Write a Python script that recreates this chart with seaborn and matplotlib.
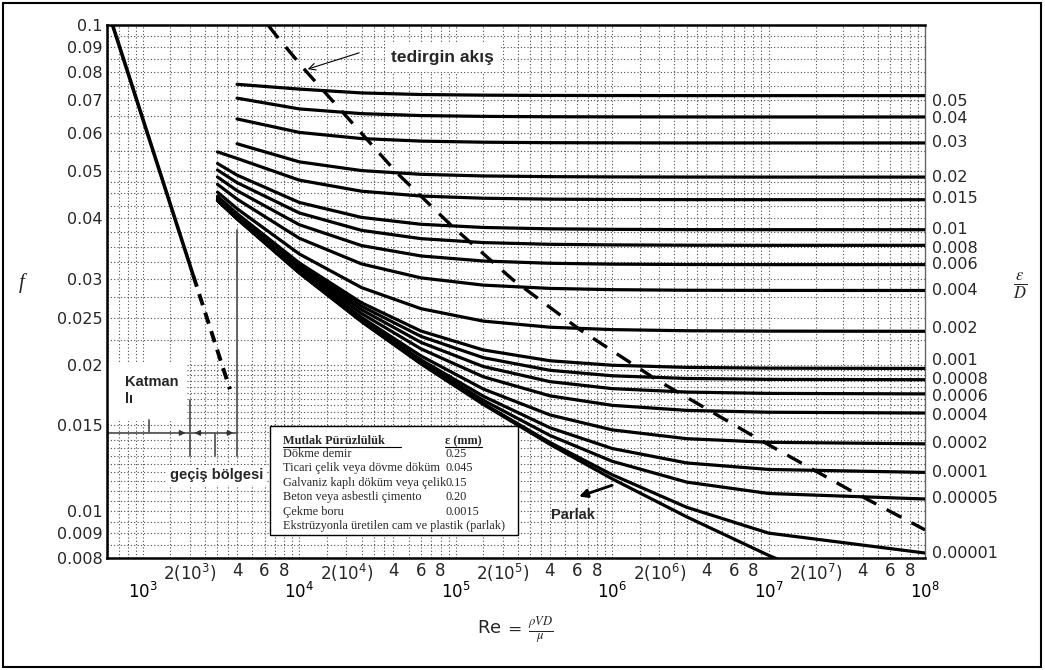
import numpy as np
import pandas as pd
import matplotlib
matplotlib.use("Agg")
import matplotlib.pyplot as plt
import seaborn as sns
from matplotlib.patches import Rectangle
from matplotlib.lines import Line2D
from matplotlib.ticker import NullLocator

# === Data ===
# Reynolds numbers where the friction factor was read
re_grid = [3e3, 4e3, 1e4, 2.5e4, 6e4, 1.5e5, 4e5, 1e6, 3e6, 1e7, 1e8]

# friction factor per relative roughness (suffix = eps/D x 1e5), nan = curve not drawn there
f_r5000 = [np.nan, 0.0755, 0.0738, 0.07247, 0.07193, 0.07171, 0.07161, 0.07158, 0.07156, 0.07155, 0.07155]
f_r4000 = [np.nan, 0.0707, 0.06719, 0.0657, 0.0651, 0.06485, 0.06474, 0.0647, 0.06468, 0.06467, 0.06467]
f_r3000 = [np.nan, 0.06407, 0.06011, 0.05838, 0.05768, 0.05738, 0.05725, 0.05721, 0.05718, 0.05718, 0.05718]
f_r2000 = [np.nan, 0.05696, 0.05228, 0.05016, 0.04928, 0.0489, 0.04874, 0.04868, 0.04865, 0.04864, 0.04864]
f_r1500 = [0.0548, 0.05314, 0.04794, 0.04549, 0.04446, 0.044, 0.04381, 0.04374, 0.04371, 0.0437, 0.04369]
f_r1000 = [0.05187, 0.0491, 0.04313, 0.04018, 0.03889, 0.03831, 0.03806, 0.03797, 0.03792, 0.03791, 0.0379]
f_r800 = [0.05029, 0.04738, 0.04104, 0.03779, 0.03633, 0.03566, 0.03537, 0.03527, 0.03522, 0.0352, 0.0352]
f_r600 = [0.04866, 0.04561, 0.03881, 0.03516, 0.03347, 0.03268, 0.03233, 0.0322, 0.03214, 0.03212, 0.03212]
f_r400 = [0.047, 0.04382, 0.0364, 0.03223, 0.03017, 0.02915, 0.0287, 0.02853, 0.02845, 0.02843, 0.02842]
f_r200 = [0.04529, 0.04188, 0.03379, 0.02881, 0.02607, 0.02458, 0.02388, 0.02361, 0.02348, 0.02344, 0.02342]
f_r100 = [0.04441, 0.04091, 0.03238, 0.02681, 0.02345, 0.02144, 0.02037, 0.01994, 0.01974, 0.01967, 0.01964]
f_r80 = [0.04424, 0.04071, 0.03209, 0.02638, 0.02286, 0.02067, 0.01947, 0.01897, 0.01873, 0.01865, 0.01862]
f_r60 = [0.04408, 0.04052, 0.0318, 0.02594, 0.02222, 0.01982, 0.01845, 0.01785, 0.01756, 0.01745, 0.01741]
f_r40 = [0.04391, 0.04031, 0.03149, 0.02548, 0.02155, 0.01888, 0.01725, 0.01649, 0.0161, 0.01596, 0.0159]
f_r20 = [0.04372, 0.04012, 0.03119, 0.02501, 0.02084, 0.01782, 0.01576, 0.01468, 0.01408, 0.01384, 0.01374]
f_r10 = [0.04362, 0.04002, 0.03105, 0.02476, 0.02046, 0.01722, 0.01483, 0.01344, 0.01255, 0.01217, 0.012]
f_r5 = [0.04357, 0.03996, 0.03097, 0.02466, 0.02027, 0.01689, 0.0143, 0.01265, 0.01146, 0.01086, 0.01058]
f_r1 = [0.04353, 0.03992, 0.0309, 0.02455, 0.02011, 0.01663, 0.01383, 0.01187, 0.01017, 0.009, 0.00819]
f_smooth = [0.04353, 0.03991, 0.03088, 0.02452, 0.02007, 0.01656, 0.01371, 0.01164, 0.00972, 0.0081, 0.00594]

eps_labels = ["0.05", "0.04", "0.03", "0.02", "0.015", "0.01", "0.008", "0.006", "0.004",
              "0.002", "0.001", "0.0008", "0.0006", "0.0004", "0.0002", "0.0001", "0.00005", "0.00001"]
eps_curves = [f_r5000, f_r4000, f_r3000, f_r2000, f_r1500, f_r1000, f_r800, f_r600, f_r400,
              f_r200, f_r100, f_r80, f_r60, f_r40, f_r20, f_r10, f_r5, f_r1]

# laminar line and its dashed continuation
lam_re = [640, 2100]
lam_f = [0.1, 0.0305]
lam_dash_re = [2100, 3600]
lam_dash_f = [0.0305, 0.0178]

# boundary of complete turbulence (dashed)
turb_re = [6300, 7520, 10870, 42100, 95900, 232000, 622000, 1.93e6, 8.8e6, 3.3e7, 1e8]
turb_f = [0.1, 0.0931, 0.0808, 0.0496, 0.0384, 0.0299, 0.0236, 0.0186, 0.014, 0.01104, 0.00914]

# axis ticks
y_ticks = [0.008, 0.009, 0.01, 0.015, 0.02, 0.025, 0.03, 0.04, 0.05, 0.06, 0.07, 0.08, 0.09, 0.1]
y_tick_labels = ["0.008", "0.009", "0.01", "0.015", "0.02", "0.025", "0.03", "0.04",
                 "0.05", "0.06", "0.07", "0.08", "0.09", "0.1"]
x_decades = [3, 4, 5, 6, 7, 8]
x_subs = [2, 4, 6, 8]

# roughness table
material_names = ["Dökme demir", "Ticari çelik veya dövme döküm", "Galvaniz kaplı döküm veya çelik",
                  "Beton veya asbestli çimento", "Çekme boru",
                  "Ekstrüzyonla üretilen cam ve plastik (parlak)"]
material_eps = ["0.25", "0.045", "0.15", "0.20", "0.0015", ""]

# === Build long table for seaborn ===
rows = []
for label, fs in zip(eps_labels + ["parlak"], eps_curves + [f_smooth]):
    for re, f in zip(re_grid, fs):
        rows.append((label, re, f))
df = pd.DataFrame(rows, columns=["eps", "Re", "f"]).dropna()

# === Figure ===
sns.set_theme(style="white")
plt.rcParams["font.family"] = ["DejaVu Sans"]
plt.rcParams["mathtext.fontset"] = "stix"

fig = plt.figure(figsize=(10.45, 6.70), dpi=100)
ax = fig.add_axes([0.1024, 0.1672, 0.7828, 0.7955])

sns.lineplot(data=df, x="Re", y="f", units="eps", estimator=None, sort=True,
             color="black", linewidth=2.3, ax=ax, zorder=3)

ax.plot(lam_re, lam_f, color="black", lw=2.6, zorder=3)
ax.plot(lam_dash_re, lam_dash_f, color="black", lw=2.8, ls=(0, (3, 2)), zorder=3)
ax.plot(turb_re, turb_f, color="black", lw=2.4, ls=(0, (5, 3.5)), zorder=3)

ax.set_xscale("log")
ax.set_yscale("log")
ax.set_xlim(590, 1e8)
ax.set_ylim(0.008, 0.1)
ax.set_xlabel("")
ax.set_ylabel("")

# dotted background grid
grid_kw = dict(color="0.3", lw=0.8, ls=(0, (1, 2)), zorder=0.5)
for n in range(2, 8):
    for k in range(1, 10):
        v = k * 10 ** n
        if 590 < v < 1e8:
            ax.axvline(v, **grid_kw)
        if n < 7 and 590 < v + 0.5 * 10 ** n < 1e8 and k < 4:
            ax.axvline(v + 0.5 * 10 ** n, **grid_kw)
y_grid = np.concatenate([np.arange(0.008, 0.02, 0.0005), np.arange(0.02, 0.05, 0.0025),
                         np.arange(0.05, 0.1, 0.005)])
for v in y_grid:
    ax.axhline(v, **grid_kw)

# ticks
ax.set_yticks(y_ticks, labels=y_tick_labels)
ax.yaxis.set_minor_locator(NullLocator())
ax.set_xticks([10.0 ** d for d in x_decades],
              labels=[r"$\mathregular{10^{%d}}$" % d for d in x_decades])
minor_pos, minor_lab = [], []
for d in x_decades[:-1]:
    for s in x_subs:
        minor_pos.append(s * 10.0 ** d)
        minor_lab.append(r"$\mathregular{2(10^{%d})}$" % d if s == 2 else str(s))
ax.set_xticks(minor_pos, labels=minor_lab, minor=True)
ax.tick_params(axis="x", which="major", direction="out", length=17, width=1.2, pad=0.5,
               labelsize=12, colors="black")
ax.tick_params(axis="x", which="minor", direction="in", length=11, width=1.8, pad=3,
               labelsize=12)
ax.tick_params(axis="y", which="major", direction="in", length=11, width=1.5, pad=3,
               labelsize=11.5)
ax.tick_params(axis="y", which="minor", length=0)

for side in ["left", "bottom", "top"]:
    ax.spines[side].set_linewidth(1.8)
    ax.spines[side].set_color("black")
ax.spines["right"].set_linewidth(1.0)
ax.spines["right"].set_color("0.4")

# eps/D labels at the right end of each curve (small shifts keep crowded ones apart)
label_shift = {"0.05": -4, "0.04": -1, "0.015": 1, "0.008": -2.5, "0.002": 2,
               "0.001": 5.5, "0.0008": 0.5, "0.0006": -2, "0.0004": -1.5}
for label, fs in zip(eps_labels, eps_curves):
    ax.annotate(label, xy=(1.008, fs[-1]), xycoords=("axes fraction", "data"),
                xytext=(0, label_shift.get(label, 0)), textcoords="offset points",
                ha="left", va="center", fontsize=11.5, annotation_clip=False)

# transition region markers
tr_kw = dict(color="0.35", lw=1.3, zorder=2)
ax.plot([590, 4000], [0.01447, 0.01447], **tr_kw)
ax.plot([2000, 2000], [0.0130, 0.0169], **tr_kw)
ax.plot([4000, 4000], [0.0130, 0.0379], **tr_kw)
ax.plot([2900, 2900], [0.0130, 0.01447], **tr_kw)
ax.plot([1090, 1090], [0.01447, 0.0154], **tr_kw)
arr_kw = dict(arrowstyle="-|>", color="0.2", lw=1.0, mutation_scale=8)
ax.annotate("", xy=(1950, 0.01447), xytext=(1650, 0.01447), arrowprops=arr_kw, zorder=3)
ax.annotate("", xy=(2050, 0.01447), xytext=(2450, 0.01447), arrowprops=arr_kw, zorder=3)
ax.annotate("", xy=(3950, 0.01447), xytext=(3300, 0.01447), arrowprops=arr_kw, zorder=3)

# annotations
ax.add_patch(Rectangle((600, 0.0153), 1300, 0.0049, facecolor="white", edgecolor="none", zorder=1))
ax.text(770, 0.0177, "Katman\nlı", fontsize=10.5, fontweight="bold", family="Liberation Sans",
        ha="left", va="center", linespacing=1.25, zorder=4)
ax.text(1490, 0.01185, "geçiş bölgesi", fontsize=10.5, fontweight="bold",
        family="Liberation Sans", ha="left", va="center", zorder=4,
        bbox=dict(facecolor="white", edgecolor="none", pad=2))
ax.text(82800, 0.0858, "tedirgin akış", fontsize=12.5, fontweight="bold",
        family="Liberation Sans", ha="center", va="center", zorder=4,
        bbox=dict(facecolor="white", edgecolor="none", pad=5))
ax.annotate("", xy=(10870, 0.0808), xytext=(25100, 0.088),
            arrowprops=dict(arrowstyle="->", color="black", lw=0.8), zorder=4)
ax.text(5.61e5, 0.00981, "Parlak", fontsize=10.5, fontweight="bold", family="Liberation Sans",
        ha="center", va="center", zorder=4)
ax.annotate("", xy=(5.9e5, 0.01066), xytext=(1.04e6, 0.01134),
            arrowprops=dict(arrowstyle="-|>", color="black", lw=2.0, mutation_scale=12), zorder=4)

# axis titles
fig.text(0.021, 0.578, "f", fontsize=15, fontstyle="italic", family="Liberation Serif",
         ha="center", va="center")
fig.text(0.976, 0.574, r"$\frac{\epsilon}{D}$", fontsize=17, ha="center", va="center")
fig.text(0.493, 0.06, r"Re $=\ \frac{\rho VD}{\mu}$", fontsize=13, ha="center", va="center")

# roughness table box
fig.add_artist(Rectangle((0.2584, 0.2015), 0.2373, 0.1627, transform=fig.transFigure,
                         facecolor="white", edgecolor="black", lw=1.0, zorder=5))
tab_kw = dict(family="Liberation Serif", fontsize=8.8, va="center", zorder=6)
fig.text(283 / 1045, 1 - 441 / 670, "Mutlak Pürüzlülük", fontweight="bold", **tab_kw)
fig.text(445 / 1045, 1 - 441 / 670, "ε (mm)", fontweight="bold", **tab_kw)
fig.add_artist(Line2D([283 / 1045, 401 / 1045], [1 - 447 / 670] * 2, color="black", lw=0.8,
                      transform=fig.transFigure, zorder=6))
fig.add_artist(Line2D([445 / 1045, 482 / 1045], [1 - 447 / 670] * 2, color="black", lw=0.8,
                      transform=fig.transFigure, zorder=6))
for i, (name, val) in enumerate(zip(material_names, material_eps)):
    y = 1 - (454 + 14.4 * i) / 670
    fig.text(283 / 1045, y, name, **tab_kw)
    fig.text(445 / 1045, y, val, **tab_kw)

# outer frame
fig.add_artist(Rectangle((0.003, 0.005), 0.993, 0.99, transform=fig.transFigure,
                         fill=False, edgecolor="black", lw=1.5, zorder=10))

fig.savefig("out.png", dpi=100)
plt.close(fig)
